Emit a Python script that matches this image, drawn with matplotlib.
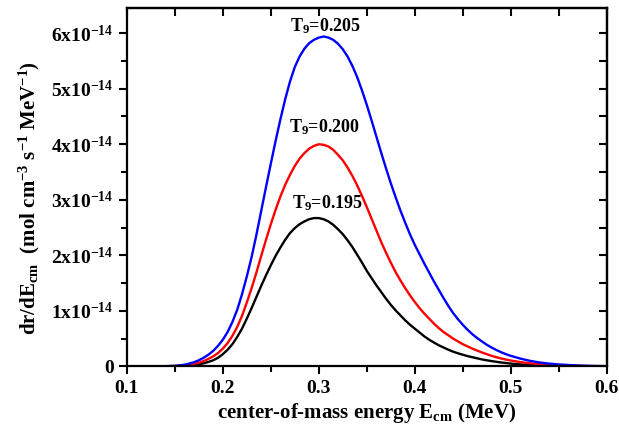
import matplotlib
matplotlib.use("Agg")
import matplotlib.pyplot as plt
from matplotlib.ticker import MultipleLocator, FixedLocator, FixedFormatter

plt.rcParams['font.family'] = ['Liberation Serif', 'DejaVu Serif']
plt.rcParams['font.weight'] = 'bold'
plt.rcParams['mathtext.fontset'] = 'custom'
plt.rcParams['mathtext.rm'] = 'Liberation Serif:bold'
plt.rcParams['mathtext.it'] = 'Liberation Serif:bold'
plt.rcParams['mathtext.bf'] = 'Liberation Serif:bold'
plt.rcParams['mathtext.default'] = 'bf'

SCALE = 1e-14

energy = [0.10, 0.11, 0.12, 0.13, 0.14,
          0.150, 0.155, 0.160, 0.165, 0.170, 0.175, 0.180, 0.185, 0.190, 0.195,
          0.200, 0.205, 0.210, 0.215, 0.220, 0.225, 0.230, 0.235, 0.240, 0.245,
          0.250, 0.255, 0.260, 0.265, 0.270, 0.275, 0.280, 0.285, 0.290, 0.295,
          0.300, 0.305, 0.310, 0.315, 0.320, 0.325, 0.330, 0.335, 0.340, 0.345,
          0.350, 0.355, 0.360, 0.365, 0.370, 0.375, 0.380, 0.385, 0.390, 0.395,
          0.400, 0.405, 0.410, 0.415, 0.420, 0.425, 0.430, 0.435, 0.440, 0.445,
          0.450, 0.455, 0.460, 0.465, 0.470, 0.475, 0.480, 0.485, 0.490, 0.495,
          0.500, 0.51, 0.52, 0.53, 0.54, 0.55, 0.56, 0.57, 0.58, 0.59, 0.60]

rate_T0195 = [0.0, 0.0, 0.0, 0.0003, 0.001,
              0.004, 0.007, 0.011, 0.017, 0.026, 0.038, 0.055, 0.08, 0.11, 0.155,
              0.22, 0.30, 0.40, 0.53, 0.68, 0.86, 1.05, 1.25, 1.45, 1.64,
              1.82, 1.99, 2.14, 2.28, 2.40, 2.49, 2.56, 2.61, 2.65, 2.67,
              2.67, 2.65, 2.61, 2.55, 2.47, 2.38, 2.27, 2.15, 2.01, 1.87,
              1.72, 1.59, 1.46, 1.34, 1.22, 1.11, 1.01, 0.92, 0.83, 0.75,
              0.68, 0.61, 0.54, 0.48, 0.43, 0.38, 0.34, 0.30, 0.265, 0.235,
              0.21, 0.185, 0.165, 0.145, 0.125, 0.11, 0.095, 0.082, 0.07, 0.06,
              0.05, 0.035, 0.024, 0.016, 0.011, 0.007, 0.005, 0.003, 0.002, 0.001, 0.001]

rate_T0200 = [0.0, 0.0, 0.0002, 0.0006, 0.002,
              0.007, 0.012, 0.02, 0.03, 0.045, 0.065, 0.095, 0.135, 0.18, 0.24,
              0.32, 0.42, 0.55, 0.71, 0.91, 1.15, 1.41, 1.69, 1.99, 2.28,
              2.56, 2.82, 3.06, 3.27, 3.45, 3.61, 3.74, 3.84, 3.92, 3.97,
              4.00, 3.99, 3.96, 3.90, 3.81, 3.71, 3.58, 3.43, 3.26, 3.07,
              2.87, 2.66, 2.45, 2.24, 2.05, 1.87, 1.70, 1.55, 1.41, 1.28,
              1.16, 1.05, 0.95, 0.86, 0.77, 0.69, 0.62, 0.56, 0.50, 0.45,
              0.40, 0.36, 0.32, 0.285, 0.25, 0.22, 0.19, 0.165, 0.142, 0.122,
              0.105, 0.078, 0.055, 0.038, 0.026, 0.018, 0.012, 0.008, 0.005, 0.003, 0.002]

rate_T0205 = [0.0, 0.0, 0.0003, 0.001, 0.003,
              0.010, 0.018, 0.030, 0.050, 0.075, 0.11, 0.155, 0.21, 0.28, 0.37,
              0.48, 0.62, 0.80, 1.02, 1.30, 1.62, 1.97, 2.37, 2.80, 3.23,
              3.65, 4.06, 4.45, 4.81, 5.13, 5.39, 5.58, 5.72, 5.82, 5.88,
              5.92, 5.94, 5.92, 5.88, 5.81, 5.71, 5.58, 5.41, 5.21, 4.97,
              4.71, 4.43, 4.14, 3.85, 3.57, 3.30, 3.05, 2.81, 2.59, 2.38,
              2.19, 2.02, 1.85, 1.69, 1.53, 1.38, 1.23, 1.09, 0.96, 0.85,
              0.75, 0.66, 0.58, 0.51, 0.45, 0.39, 0.34, 0.295, 0.255, 0.22,
              0.19, 0.14, 0.10, 0.07, 0.05, 0.035, 0.025, 0.016, 0.01, 0.006, 0.004]

labels = ["T$_9$=0.195", "T$_9$=0.200", "T$_9$=0.205"]
label_x = [0.309, 0.306, 0.307]
label_y = [2.94, 4.30, 6.12]
colors = ["black", "red", "blue"]

x_ticks = [0.1, 0.2, 0.3, 0.4, 0.5, 0.6]
x_tick_labels = ["0.1", "0.2", "0.3", "0.4", "0.5", "0.6"]
y_ticks = [0, 1, 2, 3, 4, 5, 6]
y_tick_labels = ["0"] + [f"{v}x10$^{{-14}}$" for v in y_ticks[1:]]

fig = plt.figure(figsize=(6.19, 4.30), dpi=100)
ax = fig.add_axes([0.205, 0.148, 0.775, 0.833])

for series, c in zip([rate_T0195, rate_T0200, rate_T0205], colors):
    ax.plot(energy, [v * SCALE for v in series], color=c, lw=1.7,
            solid_joinstyle='round')

for t, lx, ly in zip(labels, label_x, label_y):
    ax.text(lx, ly * SCALE, t, ha='center', va='center', fontsize=13, fontweight='bold')

ax.set_xlim(0.1, 0.6)
ax.set_ylim(0, 6.45 * SCALE)

ax.xaxis.set_major_locator(FixedLocator(x_ticks))
ax.xaxis.set_major_formatter(FixedFormatter(x_tick_labels))
ax.xaxis.set_minor_locator(MultipleLocator(0.05))
ax.yaxis.set_major_locator(FixedLocator([v * SCALE for v in y_ticks]))
ax.yaxis.set_major_formatter(FixedFormatter(y_tick_labels))
ax.yaxis.set_minor_locator(MultipleLocator(0.5 * SCALE))

for s in ax.spines.values():
    s.set_linewidth(1.6)

ax.tick_params(axis='both', which='both', direction='out', width=1.5,
               labelsize=14, top=False, right=False)
ax.tick_params(which='major', length=6)
ax.tick_params(which='minor', length=4)

# inward ticks on top and right
axt = ax.secondary_xaxis('top')
axt.xaxis.set_major_locator(FixedLocator(x_ticks))
axt.xaxis.set_minor_locator(MultipleLocator(0.05))
axt.tick_params(which='both', direction='in', width=1.5, labeltop=False)
axt.tick_params(which='major', length=6)
axt.tick_params(which='minor', length=6)
axt.spines['top'].set_linewidth(1.6)
axr = ax.secondary_yaxis('right')
axr.yaxis.set_major_locator(FixedLocator([v * SCALE for v in y_ticks]))
axr.yaxis.set_minor_locator(MultipleLocator(0.5 * SCALE))
axr.tick_params(which='both', direction='in', width=1.5, labelright=False)
axr.tick_params(which='major', length=6)
axr.tick_params(which='minor', length=6)
axr.spines['right'].set_linewidth(1.6)

for lab in ax.get_xticklabels() + ax.get_yticklabels():
    lab.set_fontweight('bold')

ax.set_xlabel("center-of-mass energy E$_{cm}$ (MeV)", fontsize=15, fontweight='bold', labelpad=3)
fig.text(29 / 619, 0.54, "dr/dE$_{cm}$  (mol cm$^{-3}$ s$^{-1}$ MeV$^{-1}$)",
         rotation=90, ha='center', va='center', fontsize=15, fontweight='bold')

fig.savefig("out.png", dpi=100)
